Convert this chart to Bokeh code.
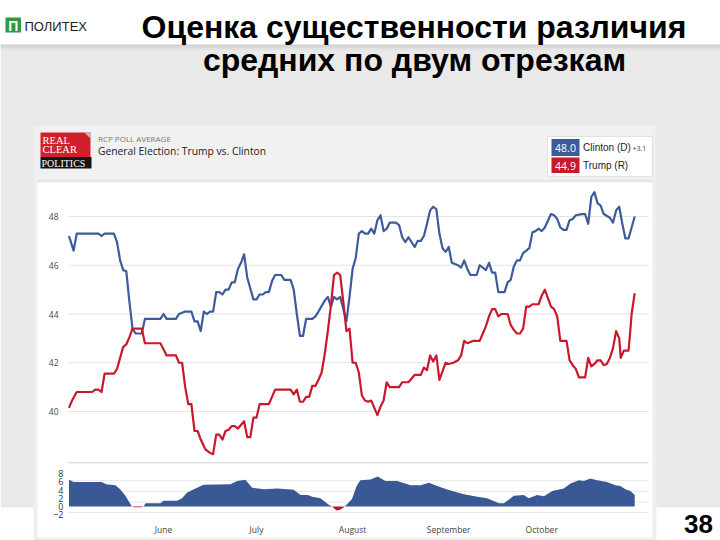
import numpy as np
from bokeh.plotting import figure
from bokeh.models import Range1d, FixedTicker, LinearAxis
from bokeh.core.properties import value
from bokeh.embed import file_html
from bokeh.resources import INLINE

# ---------------- data (days counted from May 1) ----------------
clinton_days = [0.5, 2, 3, 10, 11, 12, 15, 16, 17, 18, 19, 20, 21, 22, 24, 25, 30, 31, 32, 35, 36, 38, 40,
                41, 42, 43, 44, 45, 46, 47, 48, 49, 50, 51, 52, 53, 54, 55, 56, 57, 58, 60, 61, 62, 63, 64,
                65, 66, 67, 69, 70, 72, 73, 74, 75, 76, 77, 79, 80, 81, 83, 84, 85, 86, 87, 88, 90, 91, 92,
                93, 94, 95, 96, 97, 98, 99, 100, 101, 102, 103, 104, 106, 107, 108, 109, 110, 112, 113, 114,
                115, 116, 117, 118, 119, 120, 121, 122, 123, 124, 126, 127, 128, 129, 130, 132, 133, 134,
                135, 136, 137, 138, 139, 141, 142, 143, 144, 145, 146, 147, 148, 149, 150, 151, 152, 153,
                154, 156, 157, 158, 159, 160, 161, 162, 163, 164, 166, 167, 168, 169, 170, 171, 172, 173,
                175, 176, 177, 178, 179, 180, 181, 183]
clinton = [47.2, 46.6, 47.3, 47.3, 47.2, 47.3, 47.3, 46.95, 46.2, 45.8, 45.75, 44.5, 43.4, 43.2, 43.2, 43.8,
           43.8, 44.0, 43.8, 43.8, 44.0, 44.1, 44.1, 43.7, 43.7, 43.3, 44.1, 44.0, 44.1, 44.1, 44.9, 44.9,
           44.8, 45.0, 45.0, 45.3, 45.3, 45.85, 46.1, 46.45, 45.5, 44.6, 44.6, 44.8, 44.8, 44.9, 44.9, 45.35,
           45.6, 45.6, 45.4, 45.4, 45.0, 44.0, 43.1, 43.1, 43.8, 43.8, 43.9, 44.1, 44.55, 44.7, 44.3, 44.7,
           44.6, 44.7, 43.7, 44.7, 45.85, 46.3, 47.3, 47.4, 47.3, 47.3, 47.5, 47.3, 47.85, 48.05, 47.4, 47.5,
           47.75, 47.75, 47.65, 47.15, 46.95, 47.15, 46.75, 47.0, 47.0, 47.2, 47.7, 48.25, 48.4, 48.3, 47.3,
           46.7, 46.55, 46.75, 46.1, 46.0, 45.9, 46.2, 45.85, 45.6, 45.6, 46.0, 45.9, 45.8, 46.1, 45.7, 45.7,
           44.9, 44.9, 45.3, 45.4, 45.95, 46.2, 46.2, 46.5, 46.6, 46.7, 47.35, 47.4, 47.5, 47.4, 47.55, 48.1,
           48.05, 47.9, 47.55, 47.45, 47.45, 47.85, 47.9, 48.05, 48.1, 48.1, 47.7, 48.8, 49.0, 48.55, 48.45,
           48.1, 47.95, 47.75, 48.25, 48.4, 47.7, 47.1, 47.1, 48.0]

trump_days = [0.5, 1.5, 3, 8, 9, 10, 11, 12, 15, 16, 17, 18, 19, 20, 21, 24, 25, 30, 31, 32, 35, 36, 37, 38,
              39, 40, 41, 42, 43, 44.5, 46, 47, 48, 49, 50, 51, 52, 53, 54, 55, 57, 58, 59, 60, 61, 62, 65,
              67, 72, 73, 74, 75, 76, 77, 78, 79, 80, 81, 82, 83, 84, 85, 86, 87, 88, 89, 90, 91, 92, 93, 94,
              95, 96, 97, 98, 99, 100, 101, 102, 103, 104, 107, 108, 110, 112, 114, 115, 116, 117, 118, 119,
              120, 121, 122, 123, 124.5, 126, 127, 128, 129, 130, 131, 133, 134, 135, 136, 137, 138, 139,
              140, 142, 143, 144, 145, 146, 147, 148, 149, 150, 152, 153, 154, 155, 156, 157, 158, 159, 161,
              162, 163, 164, 165, 167, 168, 169, 170, 171, 172, 173, 174, 175, 176, 177, 178, 178.5, 179.5,
              181, 181.5, 182, 183]
trump = [40.15, 40.45, 40.8, 40.8, 40.9, 40.9, 40.8, 41.55, 41.55, 41.75, 42.2, 42.65, 42.75, 43.05, 43.4,
         43.4, 42.8, 42.8, 42.55, 42.3, 42.3, 42.0, 42.0, 41.0, 40.3, 40.3, 39.2, 39.2, 38.85, 38.45, 38.3,
         38.25, 39.05, 39.05, 38.85, 39.2, 39.25, 39.4, 39.4, 39.3, 39.6, 38.95, 38.95, 39.75, 39.75, 40.3,
         40.3, 40.9, 40.9, 40.7, 40.9, 40.4, 40.4, 40.6, 40.6, 41.05, 41.05, 41.3, 41.6, 42.35, 43.3, 44.35,
         45.6, 45.7, 45.6, 44.5, 43.3, 43.4, 42.0, 42.0, 41.6, 40.65, 40.45, 40.4, 40.45, 40.15, 39.85, 40.2,
         40.45, 41.2, 41.0, 41.0, 41.2, 41.2, 41.5, 41.5, 41.8, 41.7, 42.3, 42.05, 42.3, 41.3, 41.65, 42.0,
         41.95, 42.0, 42.1, 42.3, 42.9, 42.8, 42.85, 42.9, 42.9, 43.2, 43.5, 43.9, 44.2, 44.2, 43.9, 44.0,
         44.0, 43.55, 43.35, 43.2, 43.2, 43.4, 44.3, 44.3, 44.4, 44.4, 44.75, 45.0, 44.65, 44.3, 44.2, 43.9,
         42.9, 42.9, 42.1, 41.9, 41.75, 41.4, 41.4, 42.2, 41.85, 41.95, 42.1, 42.1, 41.9, 41.95, 42.2, 42.6,
         43.3, 43.0, 42.2, 42.5, 42.5, 43.2, 44.0, 44.85]

spread_days = [0.5, 2, 11, 12.5, 15.5, 17, 18.7, 20.8, 21.5, 24, 24.6, 25.2, 30, 31, 35.4, 37, 38.6, 40.8, 43,
               44, 52.6, 54.8, 57.4, 59.6, 63.4, 67.7, 73, 75.2, 77.5, 79, 81.6, 84.3, 85.4, 86.8, 88, 89.5,
               91.8, 93.3, 94.5, 97.8, 100.1, 102.6, 106.4, 110.7, 113.9, 116.6, 119.3, 123, 127.9, 132.2,
               135.4, 139.2, 140.8, 144, 147.2, 148.8, 151.5, 153.7, 156.4, 160.1, 162.3, 165, 166.6, 168.7,
               170.8, 174, 176.8, 178.4, 180, 181.6, 183]
spread = [6.5, 6.0, 6.0, 5.4, 5.2, 4.2, 2.6, 0.0, -0.2, -0.2, 0.0, 0.8, 0.8, 1.4, 1.4, 2.0, 3.4, 4.2, 5.0, 5.3,
          5.4, 6.2, 6.5, 4.6, 4.2, 4.4, 4.1, 2.8, 2.8, 2.4, 2.0, 0.4, 0.0, -1.0, -0.8, 0.0, 1.8, 5.0, 6.4, 6.6,
          7.3, 6.2, 6.2, 5.2, 5.2, 5.8, 5.0, 4.0, 3.0, 2.4, 2.0, 0.8, 0.8, 2.6, 2.8, 2.0, 2.8, 2.5, 3.8, 4.4,
          5.6, 6.4, 6.2, 6.8, 6.4, 6.0, 5.2, 5.0, 4.2, 3.8, 2.8]

main_ticks = [40, 42, 44, 46, 48]
spread_ticks = [-2, 0, 2, 4, 6, 8]
spread_grid = [-1.45, 1.05, 3.7, 6.3]
month_ticks = [31, 61, 92, 123, 153]
month_labels = ["June", "July", "August", "September", "October"]

title_lines = ["Оценка существенности различия", "средних по двум отрезкам"]
legend_names = ["Clinton (D)", "Trump (R)"]
legend_values = ["48.0", "44.9"]
legend_spread = "+3.1"
page_number = "38"

# ---------------- styling ----------------
BLUE = "#3d5b9a"
RED = "#c9172c"
AREA_BLUE = "#3a5796"
AREA_RED = "#c0102a"
SLIDE_GRAY = "#e9e9e9"
FRAME = "#efefef"
SANS = "Liberation Sans"
CHART_FONT = "Open Sans"

W, H = 720, 540
# chart windows on the page (pixels) and the data extent shown in them
DAY0, DAY1 = 0.35, 187.45          # visible day span of the chart plot area
PX_LEFT, PX_PER_DAY = 68.0, 3.1
POLL_REF, POLL_PX, POLL_PX_PER = 40.0, 411.0, 24.375
SPR_PX0, SPR_PX_PER = 506.0, 4.1
POLL_LO = POLL_REF - (463 - POLL_PX) / POLL_PX_PER
SPR_LO = (SPR_PX0 - 518) / SPR_PX_PER

p = figure(width=W, height=H, x_range=Range1d(0, W), y_range=Range1d(H, 0),
           x_axis_location=None, y_axis_location=None, toolbar_location=None,
           output_backend="svg", min_border=0)
p.grid.visible = False
p.outline_line_color = None
p.background_fill_color = "white"
p.border_fill_color = "white"

# data scales mapped onto the page areas
p.extra_x_ranges = {"days": Range1d(DAY0 - PX_LEFT / PX_PER_DAY, DAY0 + (W - PX_LEFT) / PX_PER_DAY)}
p.extra_y_ranges = {
    "poll": Range1d(POLL_REF - (H - POLL_PX) / POLL_PX_PER, POLL_REF + POLL_PX / POLL_PX_PER),
    "spread": Range1d((SPR_PX0 - H) / SPR_PX_PER, SPR_PX0 / SPR_PX_PER),
}


def box(l, r, t, b, color, line=None):
    p.quad(left=[l], right=[r], top=[t], bottom=[b], fill_color=color,
           line_color=line, line_width=1)


def txt(x, y, s, size, color="#222", font=SANS, style="normal", align="left"):
    p.text(x=[x], y=[y], text=[s], text_font=value(font), text_font_size=size,
           text_font_style=style, text_color=color, text_align=align, text_baseline="middle")


# ---------------- slide background ----------------
box(0, 720, 45, 507, SLIDE_GRAY)
box(0, 720, 44, 45.5, "#cfcfcf")
box(0, 720, 45.5, 47.5, "#dadada")
box(0, 720, 47.5, 49.5, "#e2e2e2")
# logo
box(5, 20.5, 17, 32, "#2f9a41")
txt(12.8, 25, "П", "14px", color="white", style="bold", align="center")
txt(24, 25.5, "ПОЛИТЕХ", "13px", color="#222")
# title
txt(413.5, 26.5, title_lines[0], "32px", color="#000", style="bold", align="center")
txt(414, 59, title_lines[1], "32px", color="#000", style="bold", align="center")
# page number
txt(698, 523, page_number, "26px", color="#000", style="bold", align="center")

# ---------------- screenshot frame & header ----------------
box(33, 656, 125, 540, FRAME)
box(37, 652, 127, 180, "#f1f1f1")
box(37, 652, 179, 182, "#e7e7e7")
box(37, 652, 182, 537, "white")
box(40, 90, 132, 156.5, "#d2202b")
p.patch(x=[84, 90, 90], y=[132, 132, 138], fill_color="#bdbdbd", line_color=None)
box(40, 91, 156.5, 168, "#141414")
txt(42, 139.5, "REAL", "10.5px", color="white", font="Liberation Serif")
txt(42, 149, "CLEAR", "10.5px", color="white", font="Liberation Serif")
txt(41, 162.5, "POLITICS", "10px", color="white", font="Liberation Serif")
txt(97.5, 137.5, "RCP POLL AVERAGE", "8px", color="#777", font=CHART_FONT)
txt(97.5, 150.5, "General Election: Trump vs. Clinton", "10.3px", color="#222", font=CHART_FONT)
# legend box
box(547, 652, 136, 176, "white", line="#e2e2e2")
box(551, 579, 138.5, 155.5, BLUE)
box(551, 579, 157, 172.5, RED)
txt(565, 147, legend_values[0], "10.5px", color="white", font=CHART_FONT, align="center")
txt(565, 165, legend_values[1], "10.5px", color="white", font=CHART_FONT, align="center")
txt(582.5, 147, legend_names[0], "10px", color="#222")
txt(582.5, 165, legend_names[1], "10px", color="#222")
txt(632, 148, legend_spread, "7px", color="#444", font=CHART_FONT)

# ---------------- main chart ----------------
n = len(main_ticks)
p.segment(x0=[DAY0] * n, x1=[DAY1] * n, y0=main_ticks, y1=main_ticks, line_color="#e3e3e3",
          line_width=1, x_range_name="days", y_range_name="poll")
p.segment(x0=[DAY0], x1=[DAY1], y0=[POLL_LO + 0.03], y1=[POLL_LO + 0.03], line_color="#cfcfcf",
          line_width=1, x_range_name="days", y_range_name="poll")
p.line(clinton_days, clinton, line_color=BLUE, line_width=2.2, line_join="round",
       x_range_name="days", y_range_name="poll")
p.line(trump_days, trump, line_color=RED, line_width=2.2, line_join="round",
       x_range_name="days", y_range_name="poll")

# ---------------- spread chart ----------------
m = len(spread_grid)
p.segment(x0=[DAY0] * m, x1=[DAY1] * m, y0=spread_grid, y1=spread_grid, line_color="#e6e6e6",
          line_width=1, x_range_name="days", y_range_name="spread")
sx = np.array(spread_days)
sv = np.array(spread)
p.varea(x=sx, y1=np.zeros_like(sv), y2=np.clip(sv, 0, None), fill_color=AREA_BLUE,
        x_range_name="days", y_range_name="spread")
p.varea(x=sx, y1=np.zeros_like(sv), y2=np.clip(sv, None, 0), fill_color=AREA_RED,
        x_range_name="days", y_range_name="spread")


def style_axis(ax, size, color, standoff):
    ax.axis_line_color = None
    ax.major_tick_line_color = None
    ax.minor_tick_line_color = None
    ax.major_tick_out = 0
    ax.major_tick_in = 0
    ax.minor_tick_out = 0
    ax.minor_tick_in = 0
    ax.major_label_standoff = standoff
    ax.major_label_text_font = CHART_FONT
    ax.major_label_text_font_size = size
    ax.major_label_text_color = color


ay_main = LinearAxis(x_range_name="days", y_range_name="poll", fixed_location=DAY0,
                     ticker=FixedTicker(ticks=main_ticks))
style_axis(ay_main, "8.5px", "#444", 10)
p.add_layout(ay_main, "left")

ay_spr = LinearAxis(x_range_name="days", y_range_name="spread", fixed_location=DAY0,
                    ticker=FixedTicker(ticks=spread_ticks))
style_axis(ay_spr, "9px", "#333", 5)
p.add_layout(ay_spr, "left")

ax_month = LinearAxis(x_range_name="days", y_range_name="spread", fixed_location=SPR_LO,
                      ticker=FixedTicker(ticks=month_ticks),
                      major_label_overrides={t: l for t, l in zip(month_ticks, month_labels)})
style_axis(ax_month, "8.5px", "#444", 5)
p.add_layout(ax_month, "below")

open("out.html", "w").write(file_html(p, INLINE))
